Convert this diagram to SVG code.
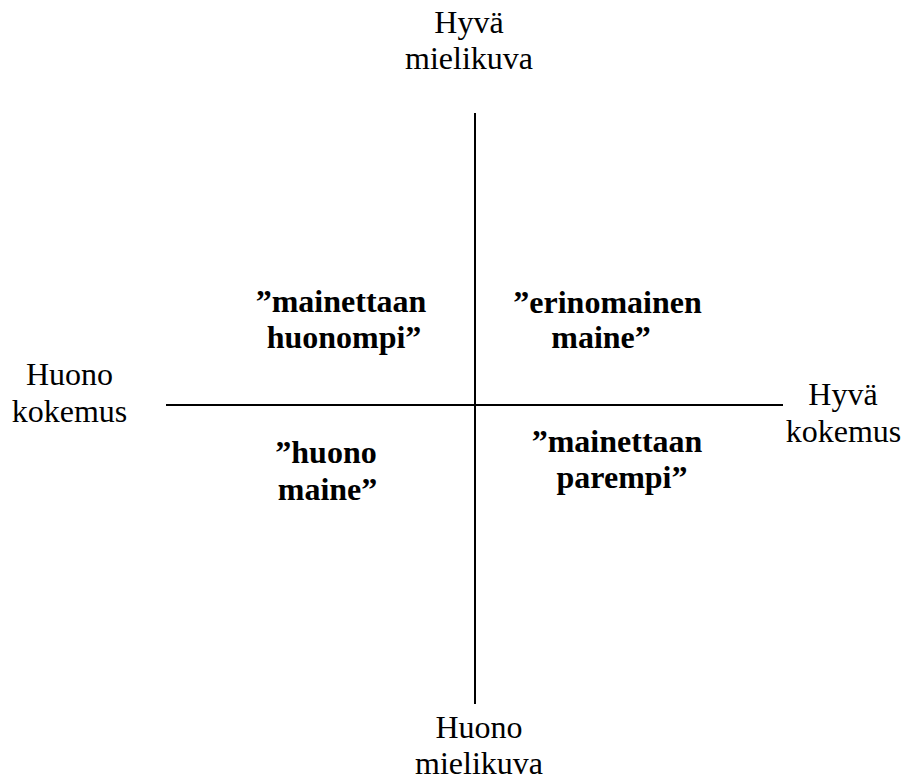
<svg xmlns="http://www.w3.org/2000/svg" width="902" height="780" viewBox="0 0 902 780">
<style>
text{font-size:32px;fill:#000;text-anchor:middle}
.b{font-weight:bold}
.ax{stroke:#000;stroke-width:2;fill:none}
</style>
<rect width="902" height="780" fill="#fff"/>
<g id="connectors">
<line class="ax" x1="475" y1="113" x2="475" y2="704"/>
<line class="ax" x1="166" y1="405" x2="783" y2="405"/>
</g>
<g font-family="Liberation Serif, Times New Roman, serif">
<g id="top-label"><text x="469" y="33">Hyvä</text><text x="469" y="69">mielikuva</text></g>
<g id="bottom-label"><text x="479" y="738">Huono</text><text x="479" y="774">mielikuva</text></g>
<g id="left-label"><text x="69.5" y="385">Huono</text><text x="69.5" y="422">kokemus</text></g>
<g id="right-label"><text x="843" y="405">Hyvä</text><text x="843.5" y="442">kokemus</text></g>
<g id="q-top-left"><text class="b" x="341" y="312">”mainettaan</text><text class="b" x="344" y="348">huonompi”</text></g>
<g id="q-top-right"><text class="b" x="607.5" y="313">”erinomainen</text><text class="b" x="601" y="348">maine”</text></g>
<g id="q-bottom-left"><text class="b" x="326" y="463">”huono</text><text class="b" x="327.5" y="500">maine”</text></g>
<g id="q-bottom-right"><text class="b" x="617" y="452">”mainettaan</text><text class="b" x="622" y="488">parempi”</text></g>
</g>
</svg>
